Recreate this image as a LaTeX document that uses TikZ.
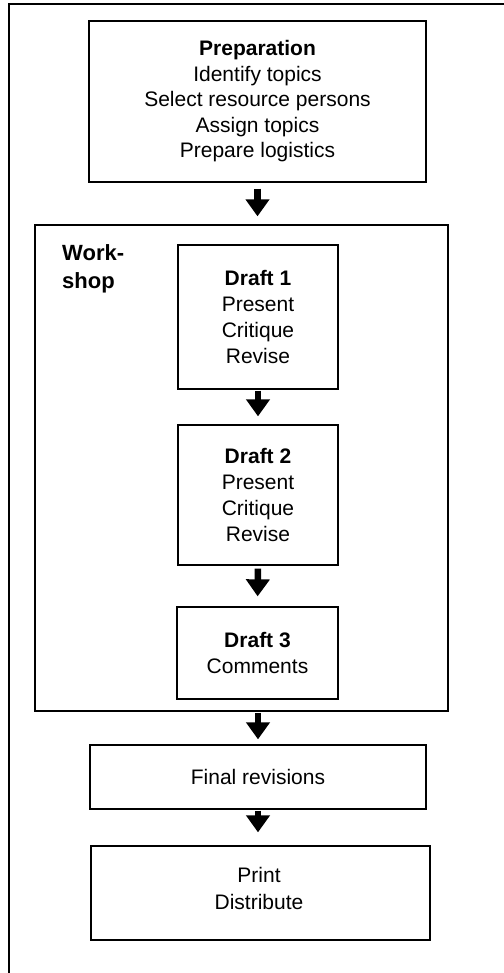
\documentclass[tikz,border=0pt]{standalone}
\usepackage{fontspec}
\setmainfont{Liberation Sans}
\usetikzlibrary{arrows.meta}
\begin{document}
\begin{tikzpicture}[x=1bp,y=-1bp,
  box/.style={draw,line width=1.3bp,rectangle,inner sep=0pt,align=center,
    font=\fontsize{21bp}{25.5bp}\selectfont},
  txt/.style={inner sep=0pt,align=center,font=\fontsize{21bp}{27bp}\selectfont},
  bigarrow/.style={line width=6.5bp,-{Triangle[width=23bp,length=17bp]},
    shorten <=1bp}]
\useasboundingbox (0,0) rectangle (504,973);
% outer frame (partial)
\coordinate (ftl) at (9,4);
\coordinate (ftr) at (504,4);
\coordinate (fbl) at (9,973);
\draw[line width=2bp] (ftr) -- (ftl) -- (fbl);
% nodes
\node[box,minimum width=337bp,minimum height=161bp] (prep) at (257.5,101.5)
  {\textbf{Preparation}\\Identify topics\\Select resource persons\\Assign topics\\Prepare logistics};
\node[box,minimum width=413bp,minimum height=486bp] (work) at (241.5,468) {};
\node[anchor=north west,align=left,inner sep=0pt,
  font=\fontsize{22bp}{28bp}\selectfont\bfseries] (wlabel) at (62,244) {Work-\\shop};
\node[box,minimum width=160bp,minimum height=144bp,
  font=\fontsize{21bp}{26bp}\selectfont] (d1) at (258,317)
  {\textbf{Draft 1}\\Present\\Critique\\Revise};
\node[box,minimum width=160bp,minimum height=140bp,
  font=\fontsize{21bp}{26bp}\selectfont] (d2) at (258,495)
  {\textbf{Draft 2}\\Present\\Critique\\Revise};
\node[box,minimum width=161bp,minimum height=92bp,
  font=\fontsize{21bp}{26bp}\selectfont] (d3) at (257.5,653)
  {\textbf{Draft 3}\\Comments};
\node[box,minimum width=336bp,minimum height=64bp] (final) at (258,777)
  {Final revisions};
\node[box,minimum width=339bp,minimum height=94bp] (print) at (260.5,893) {};
\node[txt] (printtxt) at (259,888.5) {Print\\Distribute};
% arrows
\draw[bigarrow,shorten <=6bp,shorten >=8bp] (prep.south) -- (prep.south |- work.north);
\draw[bigarrow,shorten >=8bp] (d1.south) -- (d2.north);
\draw[bigarrow,shorten <=3bp,shorten >=10bp] (d2.south) -- (d3.north);
\draw[bigarrow,shorten >=5bp] (final.north |- work.south) -- (final.north);
\draw[bigarrow,shorten >=13bp] (final.south) -- (final.south |- print.north);
\end{tikzpicture}
\end{document}
